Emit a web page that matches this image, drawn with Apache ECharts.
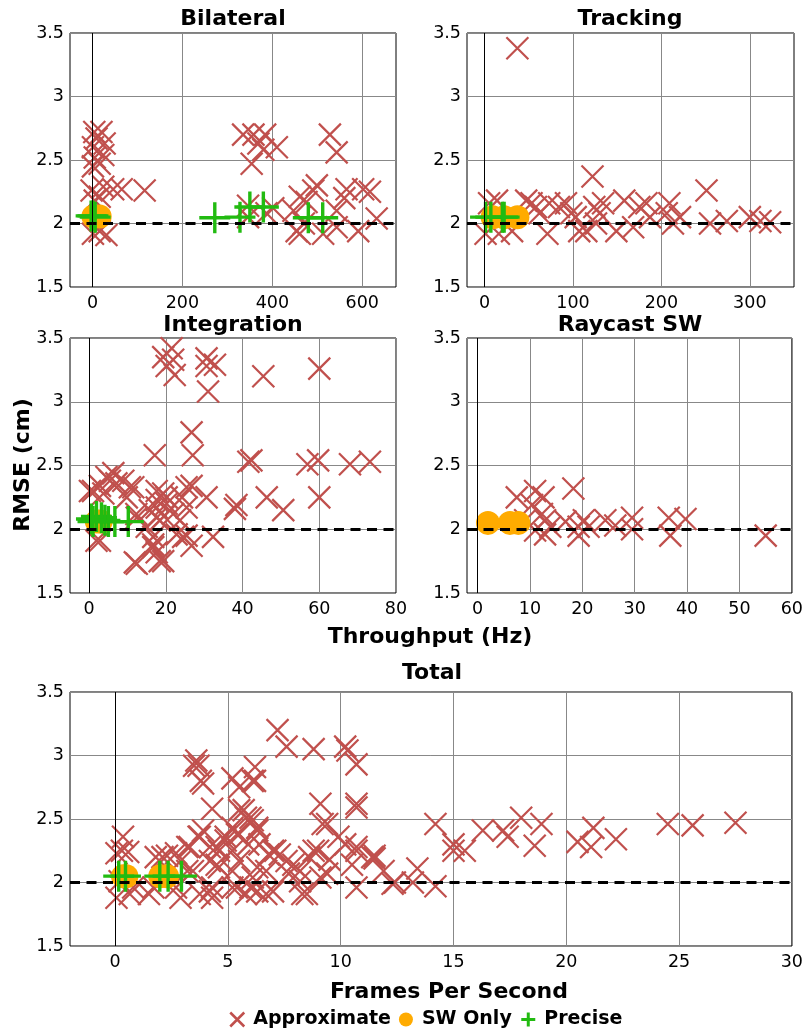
<!DOCTYPE html>
<html>
<head>
<meta charset="utf-8">
<script src="https://cdn.jsdelivr.net/npm/echarts@6/dist/echarts.min.js"></script>
<style>
html, body { margin: 0; padding: 0; background: #fff; }
#chart { width: 806px; height: 1032px; }
</style>
</head>
<body>
<div id="chart"></div>
<script>
// panel titles and x ranges
const titles = ['Bilateral', 'Tracking', 'Integration', 'Raycast SW', 'Total'];
const xMins = [-50, -20, -5, -2, -2];
const xMaxs = [675, 350, 80, 60, 30];
const xTicks = [
    [0, 200, 400, 600],
    [0, 100, 200, 300],
    [0, 20, 40, 60, 80],
    [0, 10, 20, 30, 40, 50, 60],
    [0, 5, 10, 15, 20, 25, 30]
];

// Bilateral
const bilateralApprox = [[4,2.72],[20,2.72],[9,2.67],[27,2.63],[1,2.60],[5,2.52],[24,2.54],[1,2.45],[16,2.47],
    [-2,2.26],[24,2.29],[46,2.27],[65,2.27],[116,2.26],[16,2.21],[1,1.92],[31,1.91],[16,1.94],[5,2.18],
    [335,2.70],[358,2.70],[384,2.70],[369,2.63],[410,2.60],[380,2.58],[354,2.47],[346,2.14],[346,2.05],[387,2.08],[402,2.12],
    [528,2.70],[543,2.56],[461,2.21],[476,2.17],[491,2.26],[499,2.30],[565,2.27],[602,2.27],[617,2.25],[632,2.04],
    [591,1.94],[454,1.94],[461,1.92],[513,1.92],[543,1.97],[543,2.10],[447,2.10],[470,2.0],[560,2.2]];
const bilateralSw = [[2,2.055],[16,2.055]];
const bilateralPrecise = [[1,2.06],[-3,2.06],[6,2.05],[272,2.045],[328,2.05],[350,2.13],[380,2.13],[480,2.045],[512,2.045]];

// Tracking
const trackingApprox = [[37,3.38],[122,2.37],[251,2.26],[1,1.92],[16,1.92],[5,2.16],[14,2.18],[31,1.94],[47,2.18],
    [53,2.16],[58,2.13],[62,2.08],[71,1.92],[73,2.16],[84,2.13],[92,2.16],[98,2.08],[107,1.94],[115,1.94],[103,2.05],
    [124,2.13],[134,2.16],[130,2.08],[126,2.0],[149,1.94],[158,2.18],[168,1.97],[175,2.13],[183,2.16],[187,2.05],
    [206,2.08],[209,2.16],[213,2.0],[221,2.05],[255,2.0],[274,2.02],[300,2.05],[312,2.02],[323,2.01]];
const trackingSw = [[9,2.05],[22,2.05],[37,2.05]];
const trackingPrecise = [[1,2.05],[7,2.05],[20,2.05],[22,2.05]];

// Integration
const integrationApprox = [[19.3,3.35],[21.5,3.42],[21.9,3.33],[20.2,3.28],[22.3,3.21],[30.6,3.34],[32.8,3.29],[30.6,3.28],
    [31,3.08],[45.4,3.20],[60,3.26],[26.7,2.76],[17.1,2.58],[27,2.58],[41.5,2.53],[42.3,2.54],[56.9,2.51],[59.7,2.54],
    [68,2.51],[73.2,2.53],[46.3,2.25],[50.6,2.15],[60,2.25],[38.4,2.19],[38,2.16],[0.2,2.30],[2.8,2.34],[6.3,2.44],
    [5.4,2.38],[8.9,2.38],[11.5,2.33],[2.8,1.91],[11.9,1.74],[19.3,1.75],[17.6,1.82],[16.7,1.88],[15.8,2.15],[17.6,2.23],
    [19.3,2.28],[20.2,2.20],[17.6,2.09],[19.5,2.10],[21.9,2.12],[25.4,2.17],[26.7,2.34],[24.2,2.25],[30.6,2.25],
    [25.4,1.95],[26.7,1.87],[32.3,1.94],[12.3,2.12],[15,2.02],[22.8,1.96],
    [1.0,2.30],[4.5,2.41],[7.1,2.36],[10.6,2.33],[3.7,2.28],[9.8,2.25],[17.6,2.30],[20.2,2.25],[25.4,2.33],
    [17.6,2.17],[18.4,2.07],[12.4,2.09],[23.7,2.07],[16.7,1.94],[16.7,1.86],[24.5,1.94],[12.4,1.73],[18.4,1.75],[1.9,1.91]];
const integrationSw = [[2,2.06],[3,2.06]];
const integrationPrecise = [[0.6,2.08],[1.9,2.1],[3.2,2.09],[4.1,2.07],[5.0,2.06],[6.7,2.06],[10.2,2.06],[1,2.06]];

// Raycast SW
const raycastApprox = [[7.5,2.25],[11,2.30],[12.6,2.25],[10.4,2.19],[18.3,2.32],[12.3,2.12],[12.9,2.07],[11,1.99],
    [12.9,1.96],[13.9,2.02],[16.8,2.06],[19.3,2.02],[20.3,2.07],[19.3,1.95],[21.2,2.02],[24.4,2.07],[26.3,2.03],
    [29.5,2.09],[29.5,2.0],[36.5,2.09],[36.8,1.95],[39.7,2.08],[55,1.95],[9.1,2.07]];
const raycastSw = [[2,2.05],[6.2,2.05],[7.8,2.05]];
const raycastPrecise = [];

// Total
const totalApprox = [[7.2,3.20],[7.6,3.07],[8.8,3.05],[10.2,3.07],[10.3,3.04],[10.7,2.93],[3.6,2.96],[3.7,2.92],
    [3.9,2.78],[6.2,2.91],[6.2,2.80],[5.2,2.82],[5.5,2.75],[4.3,2.58],[9.1,2.62],[10.7,2.59],[5.5,2.57],[5.8,2.51],
    [6.1,2.49],[6.3,2.41],[5.2,2.43],[4.9,2.36],[5.5,2.38],[9.4,2.46],[9,2.25],[10.2,2.30],[10.7,2.25],[11.5,2.21],
    [10.5,2.14],[0.35,2.36],[0.3,2.25],[3.3,2.28],[3.7,2.36],[4.2,2.28],[4.6,2.25],[5.2,2.25],[6.4,2.30],[7,2.25],
    [7.3,2.22],[7.9,2.14],[8.6,2.20],[7.7,2.07],[8.2,2.01],[9.4,2.07],[1.8,2.20],[2.3,2.21],[2.9,2.17],[0.2,2.01],
    [0.8,1.96],[1.7,1.96],[2.7,1.96],[4.2,1.93],[4.3,1.88],[5.2,1.96],[5.8,1.91],[6.3,1.93],[7,1.93],[8.3,1.91],
    [10.7,1.96],[3.2,2.09],[4.5,2.14],[5.2,2.09],[6.1,2.04],[6.7,2.09],[11.5,2.19],[12.4,2.0],[13.2,2.0],[14.2,1.97],
    [13.4,2.11],[14.2,2.46],[15.0,2.30],[15.0,2.25],[15.5,2.25],[16.3,2.41],[17.2,2.41],[17.4,2.36],[18.0,2.51],
    [18.9,2.46],[18.6,2.29],[20.5,2.32],[21.1,2.28],[21.2,2.43],[22.2,2.34],[24.5,2.46],[25.6,2.45],[27.5,2.47],
    [0.06,2.23],[0.58,2.24],[2.1,2.20],[2.7,2.23],[3.2,2.28],[3.75,2.36],[3.9,2.41],[3.8,2.80],[3.5,2.92],[6.1,2.80],
    [5.7,2.57],[6.0,2.51],[6.3,2.43],[5.4,2.38],[4.9,2.33],[4.5,2.28],[4.2,2.17],[4.6,2.12],[3.45,2.09],[5.5,2.17],
    [6.3,2.12],[7.1,2.25],[7.6,2.17],[8.2,2.09],[8.8,2.25],[9.2,2.46],[10.7,2.62],[9.9,2.36],[10.7,2.28],[11.4,2.20],
    [6.0,1.96],[6.7,1.91],[8.5,1.91],[9.1,2.04],[4.3,1.96],[5.4,1.96],[3.75,1.91],[2.9,1.88],[1.5,1.91],[0.65,1.91],
    [0.06,1.88],[11.9,2.09],[12.3,1.99],[5.9,2.30],[6.8,2.22],[9.5,2.18]];
const totalSw = [[0.35,2.05],[0.5,2.05],[2.0,2.05],[2.3,2.05]];
const totalPrecise = [[0.16,2.05],[0.46,2.05],[1.98,2.05],[2.35,2.05],[2.94,2.05]];

const approxSets = [bilateralApprox, trackingApprox, integrationApprox, raycastApprox, totalApprox];
const swSets = [bilateralSw, trackingSw, integrationSw, raycastSw, totalSw];
const preciseSets = [bilateralPrecise, trackingPrecise, integrationPrecise, raycastPrecise, totalPrecise];

const RED = '#c0504d', ORANGE = '#ffab00', GREEN = '#22bb11';
const X_PATH = 'path://M0,0L10,10M10,0L0,10';
const PLUS_PATH = 'path://M5,0L5,10M0,5L10,5';
const FONT = 'DejaVu Sans';

const gridBoxes = [
    { left: 70, top: 33, width: 326, height: 254 },
    { left: 467, top: 33, width: 327, height: 254 },
    { left: 70, top: 338, width: 326, height: 255 },
    { left: 467, top: 338, width: 327, height: 255 },
    { left: 70, top: 692, width: 724, height: 254 }
];
const titlePos = [[233, 8], [630, 8], [233, 314], [630, 314], [432, 662]];

const grid = gridBoxes.map(b => Object.assign({ show: true, borderColor: '#000', borderWidth: 1 }, b));

const xAxis = titles.map((t, i) => ({
    gridIndex: i, type: 'value', min: xMins[i], max: xMaxs[i],
    axisLine: { show: false },
    axisTick: { show: false, customValues: xTicks[i] },
    axisLabel: { customValues: xTicks[i], fontSize: 17.5, color: '#000', fontFamily: FONT, margin: 7 },
    splitLine: { show: true, lineStyle: { color: '#888', width: 1 } }
}));
const yAxis = titles.map((t, i) => ({
    gridIndex: i, type: 'value', min: 1.5, max: 3.5, interval: 0.5,
    axisLine: { show: false }, axisTick: { show: false },
    axisLabel: { fontSize: 17.5, color: '#000', fontFamily: FONT, margin: 6 },
    splitLine: { show: true, lineStyle: { color: '#888', width: 1 } }
}));

const series = [];
titles.forEach((t, i) => {
    series.push({
        name: 'Approximate', type: 'scatter', xAxisIndex: i, yAxisIndex: i,
        data: approxSets[i], symbol: X_PATH, symbolSize: 22,
        itemStyle: { color: RED, borderColor: RED, borderWidth: 2.2, opacity: 1 },
        emphasis: { disabled: true }, silent: true,
        markLine: {
            silent: true, symbol: 'none', label: { show: false },
            data: [{ xAxis: 0, lineStyle: { color: '#000', width: 1, type: 'solid' } }]
        }
    });
    series.push({
        name: 'SW Only', type: 'scatter', xAxisIndex: i, yAxisIndex: i,
        data: swSets[i], symbol: 'circle', symbolSize: 24,
        itemStyle: { color: ORANGE, opacity: 1 },
        emphasis: { disabled: true }, silent: true
    });
    series.push({
        name: 'Precise', type: 'scatter', xAxisIndex: i, yAxisIndex: i,
        data: preciseSets[i], symbol: PLUS_PATH, symbolSize: 31,
        itemStyle: { color: GREEN, borderColor: GREEN, borderWidth: 3.4, opacity: 1 },
        emphasis: { disabled: true }, silent: true,
        markLine: {
            silent: true, symbol: 'none', label: { show: false }, z: 10,
            data: [{ yAxis: 2, lineStyle: { color: '#000', width: 3, type: [10, 6.5] } }]
        }
    });
});

const title = titles.map((t, i) => ({
    text: t, left: titlePos[i][0], top: titlePos[i][1], textAlign: 'center', padding: 0,
    textStyle: { fontSize: 22, fontWeight: 'bold', color: '#000', fontFamily: FONT }
}));

const option = {
    animation: false,
    backgroundColor: '#fff',
    title: title,
    grid: grid,
    xAxis: xAxis,
    yAxis: yAxis,
    legend: {
        left: 229, top: 1010, itemWidth: 22, itemHeight: 14, itemGap: 8, padding: 0,
        symbolKeepAspect: true,
        textStyle: { fontSize: 19, fontWeight: 'bold', color: '#000', fontFamily: FONT },
        data: [
            { name: 'Approximate', icon: X_PATH, itemStyle: { color: RED, borderColor: RED, borderWidth: 2.5 } },
            { name: 'SW Only', icon: 'circle', itemStyle: { color: ORANGE, borderWidth: 0 } },
            { name: 'Precise', icon: PLUS_PATH, itemStyle: { color: GREEN, borderColor: GREEN, borderWidth: 3 } }
        ]
    },
    graphic: [
        { type: 'text', x: 23, y: 465, rotation: Math.PI / 2,
          style: { text: 'RMSE (cm)', font: 'bold 22px "DejaVu Sans"', fill: '#000', textAlign: 'center', textVerticalAlign: 'middle' } },
        { type: 'text', x: 430, y: 637,
          style: { text: 'Throughput (Hz)', font: 'bold 22px "DejaVu Sans"', fill: '#000', textAlign: 'center', textVerticalAlign: 'middle' } },
        { type: 'text', x: 449, y: 992,
          style: { text: 'Frames Per Second', font: 'bold 22px "DejaVu Sans"', fill: '#000', textAlign: 'center', textVerticalAlign: 'middle' } }
    ],
    series: series
};

const chart = echarts.init(document.getElementById('chart'), null, { renderer: 'canvas' });
chart.setOption(option);
</script>
</body>
</html>
